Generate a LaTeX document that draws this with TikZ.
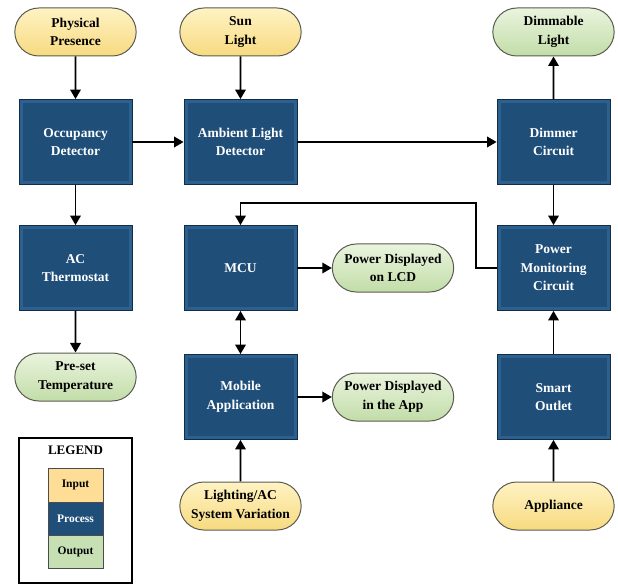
\documentclass[tikz,border=0pt]{standalone}
\usepackage{fontspec}
\setmainfont{Liberation Serif}
\usetikzlibrary{shapes.misc,arrows.meta}
\definecolor{procfill}{RGB}{31,78,121}
\definecolor{procedge}{RGB}{44,96,142}
\definecolor{procline}{RGB}{20,45,70}
\definecolor{intop}{RGB}{255,243,196}
\definecolor{inbot}{RGB}{247,218,128}
\definecolor{outtop}{RGB}{234,244,222}
\definecolor{outbot}{RGB}{194,221,168}
\definecolor{pillline}{RGB}{90,90,80}
\definecolor{legin}{RGB}{254,222,150}
\definecolor{legout}{RGB}{198,224,180}
\begin{document}
\begin{tikzpicture}[x=1pt,y=-1pt,
  txt/.style={font=\bfseries\fontsize{13.5}{18.5}\selectfont, align=center},
  proc/.style={txt, rectangle, draw=procline, line width=0.8pt, fill=procedge,
    minimum width=113pt, minimum height=85pt, text=white,
    path picture={\fill[procfill] ([xshift=3.5pt,yshift=-3.5pt]path picture bounding box.north west) rectangle ([xshift=-3.5pt,yshift=3.5pt]path picture bounding box.south east);}},
  pill/.style={txt, rounded rectangle, draw=pillline, line width=1pt,
    minimum width=128pt, minimum height=48pt, text=black},
  inp/.style={pill, top color=intop, bottom color=inbot},
  outp/.style={pill, top color=outtop, bottom color=outbot},
  arr/.style={line width=1.8pt, -{Triangle[length=9.5pt,width=10.5pt]}},
  darr/.style={line width=1.8pt, {Triangle[length=9.5pt,width=10.5pt]}-{Triangle[length=9.5pt,width=10.5pt]}},
  legcell/.style={draw=gray!60!black, line width=0.6pt}
]
\useasboundingbox (0,0) rectangle (618,585);

% inputs / outputs top row
\node[inp] (phys) at (75.5,32) {Physical\\Presence};
\node[inp] (sun) at (240.5,32) {Sun\\Light};
\node[outp] (diml) at (553.5,32) {Dimmable\\Light};

% processes
\node[proc] (occ) at (75.5,142) {Occupancy\\Detector};
\node[proc] (amb) at (240.5,142) {Ambient Light\\Detector};
\node[proc] (dim) at (553.5,142) {Dimmer\\Circuit};
\node[proc] (ac) at (75.5,268) {AC\\Thermostat};
\node[proc] (mcu) at (240.5,268) {MCU};
\node[proc] (pmc) at (553.5,268) {Power\\Monitoring\\Circuit};
\node[proc] (mob) at (240.5,397) {Mobile\\Application};
\node[proc] (smart) at (553.5,397) {Smart\\Outlet};

% outputs
\node[outp] (lcd) at (393,268) {Power Displayed\\on LCD};
\node[outp] (pre) at (75.5,377) {Pre-set\\Temperature};
\node[outp] (app) at (393,397) {Power Displayed\\in the App};

% bottom inputs
\node[inp] (light) at (240.5,506) {Lighting/AC\\System Variation};
\node[inp] (appl) at (553.5,506) {Appliance};

% connectors
\draw[arr] (phys) -- (occ);
\draw[arr] (sun) -- (amb);
\draw[arr] (occ) -- (amb);
\draw[arr] (amb) -- (dim);
\draw[arr] (dim) -- (diml);
\draw[arr] (occ) -- (ac);
\draw[arr] (ac) -- (pre);
\draw[arr] (dim) -- (pmc);
\coordinate (fb) at (476,203);
\draw[arr] (pmc.west) -| (fb) -| (mcu.north);
\draw[arr] (mcu) -- (lcd);
\draw[darr] (mcu) -- (mob);
\draw[arr] (mob) -- (app);
\draw[arr] (light) -- (mob);
\draw[arr] (smart) -- (pmc);
\draw[arr] (appl) -- (smart);

% legend
\node[draw=black, line width=1.5pt, minimum width=113pt, minimum height=145pt, inner sep=0pt] (legend) at (75.5,510.5) {};
\node[txt, font=\bfseries\fontsize{13}{15}\selectfont] (legtitle) at (75.5,450) {LEGEND};
\node[legcell, fill=legin, minimum width=55pt, minimum height=34pt, txt, font=\bfseries\fontsize{11.5}{13}\selectfont] (lin) at (75.5,485) {Input};
\node[legcell, fill=procfill, text=white, minimum width=55pt, minimum height=33pt, txt, font=\bfseries\fontsize{11.5}{13}\selectfont] (lproc) at (75.5,518.5) {Process};
\node[legcell, fill=legout, minimum width=55pt, minimum height=33pt, txt, font=\bfseries\fontsize{11.5}{13}\selectfont] (lout) at (75.5,551.5) {Output};
\end{tikzpicture}
\end{document}
